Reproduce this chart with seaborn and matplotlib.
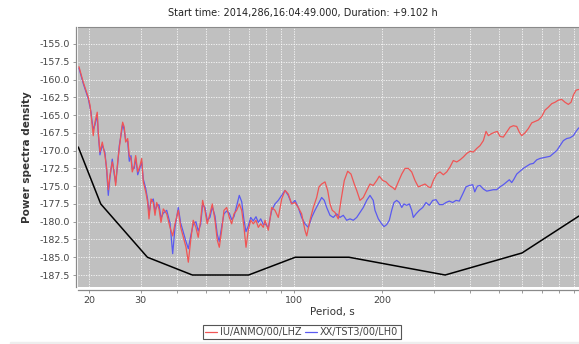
import matplotlib
matplotlib.use("Agg")
import matplotlib.pyplot as plt
import seaborn as sns
from matplotlib.ticker import FixedLocator, FixedFormatter, NullLocator
from matplotlib.lines import Line2D
from matplotlib.patches import Rectangle

# ---------------- data ----------------
title_text = "Start time: 2014,286,16:04:49.000, Duration: +9.102 h"
series_names = ["IU/ANMO/00/LHZ", "XX/TST3/00/LH0"]

red_period = [
    18.46, 19.10, 19.86, 20.13, 20.29, 20.40, 20.65, 20.93, 21.31, 21.48,
    21.77, 22.17, 22.64, 22.95, 23.24, 23.55, 23.98, 24.36, 24.63, 25.02,
    25.34, 25.81, 26.02, 26.35, 26.64, 27.07, 27.41, 27.78, 28.06, 28.51,
    28.82, 29.29, 29.82, 30.22, 30.60, 31.19, 31.67, 32.00, 32.51, 33.10,
    33.55, 34.00, 34.62, 35.17, 35.81, 36.78, 37.75, 38.55, 39.26, 40.29,
    41.06, 41.91, 42.81, 43.59, 44.42, 45.30, 46.27, 47.12, 48.02, 48.78,
    49.67, 50.58, 51.67, 52.62, 53.75, 54.73, 55.61, 56.66, 57.69, 58.93,
    60.15, 61.29, 62.40, 63.74, 65.06, 66.32, 67.52, 68.59, 69.83, 71.16,
    72.63, 74.19, 75.55, 76.99, 78.58, 79.63, 81.73, 83.94, 86.13, 88.4,
    90.8, 93.2, 95.6, 98.2, 100.8, 103.4, 106.2, 109.0, 110.5, 113.4,
    116.4, 119.5, 121.7, 124.3, 127.6, 130.3, 132.7, 135.1, 138.0, 141.6,
    144.7, 148.5, 152.5, 156.5, 160.6, 163.7, 168.0, 172.4, 177.1, 181.7,
    186.4, 191.6, 195.5, 200.8, 206.1, 211.5, 217.3, 221.2, 227.0, 233.2,
    239.3, 245.6, 252.2, 258.8, 265.6, 272.8, 280.0, 287.4, 292.9, 298.9,
    306.9, 315.0, 323.3, 332.1, 340.8, 349.7, 359.2, 368.7, 378.4, 388.6,
    398.8, 409.3, 420.4, 431.4, 442.8, 452.3, 460.5, 472.9, 485.3, 494.2,
    504.8, 518.0, 532.1, 546.1, 560.5, 575.6, 587.4, 598.6, 614.4, 630.6,
    647.7, 664.7, 682.2, 700.7, 719.1, 737.9, 757.9, 777.8, 798.2, 819.9,
    841.4, 863.6, 882.0, 898.3, 917.6, 937.3,
]
red_psd = [
    -158.2, -160.4, -162.5, -163.6, -164.8, -165.7, -167.9, -166.0, -164.6, -167.4,
    -170.2, -168.8, -170.7, -172.5, -175.5, -173.5, -171.6, -173.0, -174.9, -171.6,
    -169.7, -166.9, -166.0, -166.7, -168.8, -168.3, -170.7, -171.1, -173.0, -172.1,
    -170.7, -173.0, -172.1, -171.1, -174.4, -175.8, -177.3, -179.6, -176.8, -177.3,
    -179.1, -177.3, -178.2, -180.1, -178.2, -178.9, -180.8, -182.0, -180.3, -178.4,
    -180.8, -182.2, -183.6, -185.7, -182.6, -179.8, -180.8, -182.2, -179.8, -177.0,
    -178.4, -180.3, -178.9, -177.5, -179.8, -182.6, -183.6, -181.2, -178.4, -178.0,
    -179.4, -180.3, -178.9, -178.4, -177.5, -178.4, -180.8, -183.6, -181.2, -179.8,
    -180.3, -179.8, -180.8, -180.3, -180.8, -179.8, -181.2, -178.0, -178.4, -179.4,
    -176.8, -175.6, -176.1, -177.5, -177.3, -178.0, -178.9, -181.2, -182.0, -179.8,
    -178.0, -176.6, -175.1, -174.7, -174.4, -175.6, -177.5, -178.4, -178.7, -179.6,
    -177.0, -174.2, -172.9, -173.3, -174.7, -175.6, -177.0, -176.6, -175.6, -174.7,
    -174.9, -174.2, -173.6, -174.2, -174.4, -174.9, -175.2, -175.5, -174.4, -173.3,
    -172.5, -172.5, -173.0, -174.2, -175.1, -174.9, -174.7, -175.1, -175.2, -174.2,
    -173.3, -173.0, -173.4, -173.0, -172.3, -171.4, -171.6, -171.3, -170.9, -170.4,
    -170.1, -170.2, -169.7, -169.3, -168.6, -167.3, -167.9, -167.6, -167.4, -167.3,
    -168.0, -168.1, -167.4, -166.7, -166.5, -166.6, -167.4, -167.9, -167.5, -166.9,
    -166.1, -165.9, -165.7, -165.2, -164.3, -163.9, -163.4, -163.2, -162.9, -162.8,
    -163.2, -163.5, -163.2, -162.2, -161.5, -161.4,
]

blue_period = [
    18.46, 19.10, 19.86, 20.13, 20.29, 20.40, 20.65, 20.93, 21.31, 21.48,
    21.77, 22.17, 22.64, 22.95, 23.24, 23.55, 23.98, 24.36, 24.63, 25.02,
    25.34, 25.81, 26.02, 26.35, 26.64, 27.07, 27.41, 27.78, 28.06, 28.51,
    28.82, 29.29, 29.82, 30.22, 30.60, 31.19, 31.67, 32.00, 32.51, 33.10,
    33.55, 34.00, 34.62, 35.17, 35.81, 36.78, 37.75, 38.55, 39.26, 40.29,
    41.06, 41.91, 42.81, 43.59, 44.42, 45.30, 46.27, 47.12, 48.02, 48.78,
    49.67, 50.58, 51.67, 52.62, 53.75, 54.73, 55.61, 56.66, 57.69, 58.93,
    60.15, 61.29, 62.40, 63.74, 65.06, 66.32, 67.52, 68.59, 69.83, 71.16,
    72.63, 74.19, 75.55, 76.99, 78.58, 79.63, 81.73, 83.94, 86.13, 88.4,
    90.8, 93.2, 95.6, 98.2, 100.8, 103.4, 106.2, 109.0, 111.9, 114.9,
    117.9, 121.0, 124.3, 126.9, 129.3, 132.7, 136.2, 139.8, 143.5, 147.3,
    151.3, 155.3, 159.4, 163.7, 168.0, 172.4, 177.1, 181.7, 186.4, 189.0,
    194.0, 199.2, 202.9, 207.3, 211.5, 215.5, 219.4, 224.1, 228.8, 233.2,
    237.4, 242.4, 247.5, 252.2, 255.4, 260.9, 267.7, 275.0, 282.2, 289.6,
    297.5, 305.3, 313.3, 321.9, 330.3, 338.9, 348.0, 357.2, 366.6, 376.6,
    386.4, 396.6, 407.4, 413.9, 422.4, 431.4, 442.8, 454.8, 466.7, 479.0,
    491.8, 504.8, 518.0, 532.1, 543.1, 553.4, 563.5, 575.6, 590.7, 606.3,
    622.6, 639.1, 655.9, 673.6, 691.4, 709.6, 728.8, 747.9, 767.4, 788.2,
    808.9, 830.2, 852.6, 874.9, 898.3, 917.6, 937.3,
]
blue_psd = [
    -158.4, -160.6, -162.7, -163.9, -164.6, -165.5, -167.0, -166.4, -165.0, -167.6,
    -170.6, -169.2, -170.3, -172.8, -176.3, -173.8, -171.2, -173.4, -174.5, -171.9,
    -169.3, -167.3, -166.3, -167.1, -168.5, -168.7, -171.5, -170.7, -172.6, -172.5,
    -171.0, -173.4, -172.4, -171.6, -174.0, -175.3, -176.9, -178.8, -177.2, -176.8,
    -178.5, -177.8, -177.6, -179.5, -178.8, -178.4, -180.2, -184.5, -180.8, -178.0,
    -180.2, -181.5, -182.8, -183.8, -182.0, -180.4, -180.0, -181.3, -180.4, -177.6,
    -178.0, -179.8, -179.4, -177.9, -179.2, -181.8, -182.8, -180.7, -178.9, -178.5,
    -178.8, -179.7, -179.3, -177.8, -176.3, -177.2, -179.8, -181.4, -180.6, -179.4,
    -179.9, -179.3, -180.1, -179.6, -180.4, -180.3, -180.8, -178.4, -177.5, -177.0,
    -176.3, -175.6, -176.3, -177.5, -177.0, -178.0, -179.4, -180.3, -180.8, -179.4,
    -178.4, -177.5, -176.6, -177.0, -178.0, -179.1, -179.4, -178.9, -179.4, -179.1,
    -179.8, -179.6, -179.8, -179.4, -178.7, -178.0, -177.0, -176.3, -177.0, -178.4,
    -179.6, -180.3, -180.7, -180.4, -179.8, -178.4, -177.3, -177.0, -177.3, -178.0,
    -177.5, -177.7, -177.5, -178.4, -179.4, -178.9, -178.4, -178.0, -177.3, -177.7,
    -177.0, -176.9, -177.6, -177.6, -177.3, -177.1, -177.3, -177.0, -177.1, -176.1,
    -175.1, -174.9, -174.8, -175.8, -175.0, -174.9, -175.4, -175.7, -175.6, -175.5,
    -175.5, -175.1, -174.8, -174.4, -174.1, -174.5, -174.0, -173.3, -172.9, -172.5,
    -172.2, -171.9, -171.8, -171.3, -171.1, -171.0, -170.9, -170.8, -170.4, -170.0,
    -169.3, -168.6, -168.3, -168.2, -167.9, -167.3, -166.8,
]

nlnm_period = [18.36, 21.9, 31.6, 45.0, 70.0, 101.0, 154.0, 328.0, 600.0, 939.0]
nlnm_psd = [-169.5, -177.5, -185.0, -187.5, -187.5, -185.0, -185.0, -187.5, -184.4, -179.2]

y_ticks = [-187.5, -185.0, -182.5, -180.0, -177.5, -175.0, -172.5, -170.0,
           -167.5, -165.0, -162.5, -160.0, -157.5, -155.0]
x_ticks = [20, 30, 40, 50, 60, 70, 80, 90, 100, 200, 300, 400, 500, 600, 700, 800, 900]
x_tick_labels = ["20", "30", "", "", "", "", "", "", "100", "200", "", "", "", "", "", "", ""]

# ---------------- style ----------------
sns.set_style("ticks")
plt.rcParams["font.family"] = ["DejaVu Sans"]
plt.rcParams["axes.unicode_minus"] = False

red_c = "#f05555"
blue_c = "#5a5af0"

fig = plt.figure(figsize=(5.79, 3.44), dpi=100)
ax = fig.add_axes([0.1352, 0.1648, 0.8648, 0.7576])
ax.set_facecolor("#c0c0c0")

sns.lineplot(x=nlnm_period, y=nlnm_psd, ax=ax, color="black", linewidth=1.1,
             estimator=None, sort=False)
sns.lineplot(x=blue_period, y=blue_psd, ax=ax, color=blue_c, linewidth=0.9,
             estimator=None, sort=False)
sns.lineplot(x=red_period, y=red_psd, ax=ax, color=red_c, linewidth=0.9,
             estimator=None, sort=False)

ax.set_xscale("log")
ax.set_xlim(18.36, 939)
ax.set_ylim(-189.23, -152.57)

ax.xaxis.set_major_locator(FixedLocator(x_ticks))
ax.xaxis.set_major_formatter(FixedFormatter(x_tick_labels))
ax.xaxis.set_minor_locator(NullLocator())
ax.set_yticks(y_ticks)
ax.set_yticklabels([f"{v:.1f}" for v in y_ticks])

ax.grid(True, color="white", linestyle=(0, (1.5, 1.5)), linewidth=0.6, alpha=0.9)
ax.set_xlabel("")
ax.set_ylabel("")

for s in ["right"]:
    ax.spines[s].set_visible(False)
ax.spines["top"].set_color("#8a8a8a")
ax.spines["top"].set_linewidth(0.8)
for s in ["left", "bottom"]:
    ax.spines[s].set_position(("outward", 2))
    ax.spines[s].set_color("#8a8a8a")
    ax.spines[s].set_linewidth(0.9)

ax.tick_params(axis="both", length=2, width=0.6, color="#8a8a8a",
               labelsize=6.8, labelcolor="#444444", pad=2)

fig.text(0.5225, 0.962, title_text, ha="center", va="center", fontsize=7, color="#222222")
fig.text(0.0466, 0.5436, "Power spectra density", rotation=90, ha="center", va="center",
         fontsize=7.5, fontweight="bold", color="#333333")
fig.text(0.5734, 0.094, "Period, s", ha="center", va="center", fontsize=7.5, color="#333333")

handles = [Line2D([0], [0], color=red_c, lw=0.9), Line2D([0], [0], color=blue_c, lw=0.9)]
leg = fig.legend(handles, series_names, loc="center", bbox_to_anchor=(0.521, 0.035), ncol=2,
                 frameon=True, fancybox=False, edgecolor="#555555", framealpha=1,
                 fontsize=7, handlelength=1.2, handletextpad=0.3, columnspacing=0.4,
                 borderpad=0.25, borderaxespad=0)
leg.get_frame().set_linewidth(0.8)
for t in leg.get_texts():
    t.set_color("#444444")

fig.add_artist(Rectangle((10 / 579, 0), 1, 2.5 / 344, transform=fig.transFigure,
                         color="#eeeeee", zorder=0))

fig.savefig("out.png", dpi=100)
